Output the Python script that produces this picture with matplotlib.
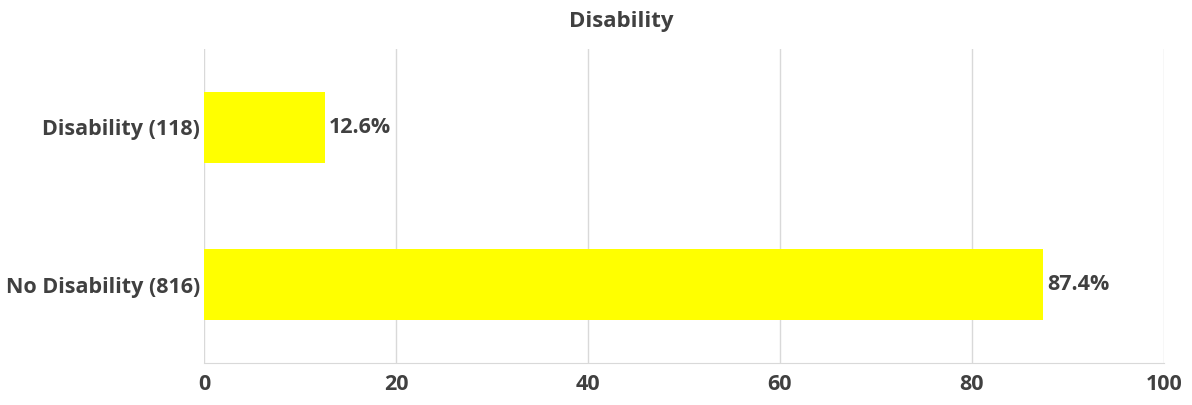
import matplotlib
matplotlib.use('Agg')
import matplotlib.pyplot as plt

# categorias y porcentajes
categories = ['Disability (118)', 'No Disability (816)']
percentages = [12.6, 87.4]
x_ticks = [0, 20, 40, 60, 80, 100]

text_color = '#404040'
grid_color = '#d9d9d9'

plt.rcParams['font.family'] = ['Open Sans', 'DejaVu Sans']

fig = plt.figure(figsize=(11.92, 4.05), dpi=100)
ax = fig.add_axes([204 / 1192, 42 / 405, 960 / 1192, 314 / 405])

ypos = list(range(len(categories)))
ax.barh(ypos, percentages, height=0.45, color='#ffff00', zorder=2)

# etiquetas de valor al final de cada barra
for y, v in zip(ypos, percentages):
    ax.text(v + 0.4, y, f'{v}%', va='center', ha='left', fontsize=15.5,
            fontweight='bold', color=text_color)

ax.set_xlim(0, 100)
ax.set_ylim(len(categories) - 0.5, -0.5)
ax.set_xticks(x_ticks)
ax.set_yticks(ypos)
ax.set_yticklabels(categories)
ax.tick_params(axis='both', length=0, labelsize=15.5, labelcolor=text_color)
ax.tick_params(axis='x', pad=8)
ax.tick_params(axis='y', pad=3)
for lab in ax.get_xticklabels() + ax.get_yticklabels():
    lab.set_fontweight('bold')

ax.grid(axis='x', color=grid_color, linewidth=1, zorder=0)
for side in ['top', 'right', 'left']:
    ax.spines[side].set_visible(False)
ax.spines['bottom'].set_color(grid_color)

fig.text(621 / 1192, 1 - 22 / 405, 'Disability', ha='center', va='center',
         fontsize=16, fontweight='bold', color=text_color)

fig.savefig('out.png', dpi=100)
